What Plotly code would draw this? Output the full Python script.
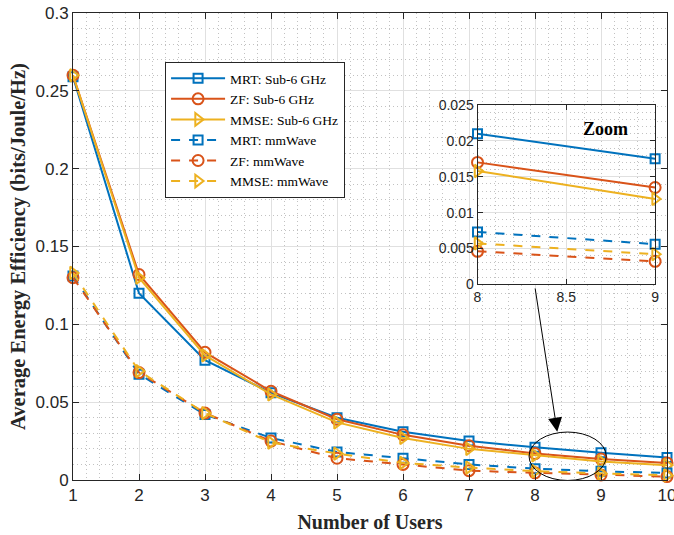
import plotly.graph_objects as go

users = [1, 2, 3, 4, 5, 6, 7, 8, 9, 10]
mrt_sub6 = [0.259, 0.120, 0.077, 0.056, 0.040, 0.031, 0.025, 0.0210, 0.0175, 0.0145]
zf_sub6 = [0.260, 0.132, 0.082, 0.057, 0.039, 0.029, 0.022, 0.0170, 0.0135, 0.0110]
mmse_sub6 = [0.260, 0.130, 0.080, 0.055, 0.037, 0.027, 0.020, 0.0158, 0.0119, 0.0095]
mrt_mm = [0.131, 0.068, 0.042, 0.027, 0.018, 0.014, 0.010, 0.0073, 0.0056, 0.0045]
zf_mm = [0.130, 0.069, 0.043, 0.025, 0.014, 0.010, 0.006, 0.0046, 0.0032, 0.0022]
mmse_mm = [0.133, 0.070, 0.043, 0.024, 0.017, 0.011, 0.008, 0.0057, 0.0042, 0.0030]

series_names = ["MRT: Sub-6 GHz", "ZF: Sub-6 GHz", "MMSE: Sub-6 GHz",
                "MRT: mmWave", "ZF: mmWave", "MMSE: mmWave"]

y_ticks = [0, 0.05, 0.1, 0.15, 0.2, 0.25, 0.3]
y_ticktext = ["0", "0.05", "0.1", "0.15", "0.2", "0.25", "0.3"]
inset_x_ticks = [8, 8.5, 9]
inset_y_ticks = [0, 0.005, 0.01, 0.015, 0.02, 0.025]
inset_y_ticktext = ["0", "0.005", "0.01", "0.015", "0.02", "0.025"]

BLUE, RED, YEL = "#0072BD", "#D95319", "#EDB120"
styles = [
    (BLUE, "square-open", "solid", 9),
    (RED, "circle-open", "solid", 11),
    (YEL, "triangle-right-open", "solid", 11),
    (BLUE, "square-open", "dash", 9),
    (RED, "circle-open", "dash", 11),
    (YEL, "triangle-right-open", "dash", 11),
]
data = [mrt_sub6, zf_sub6, mmse_sub6, mrt_mm, zf_mm, mmse_mm]

fig = go.Figure()
for name, ys, (c, sym, dash, ms) in zip(series_names, data, styles):
    fig.add_trace(go.Scatter(
        x=users, y=ys, name=name, mode="lines+markers",
        line=dict(color=c, width=2, dash=dash),
        marker=dict(symbol=sym, size=ms, color=c, line=dict(width=2, color=c)),
        cliponaxis=False, xaxis="x", yaxis="y"))
# inset traces (zoomed region users 8-9)
for name, ys, (c, sym, dash, ms) in zip(series_names, data, styles):
    fig.add_trace(go.Scatter(
        x=users[7:9], y=ys[7:9], name=name, mode="lines+markers", showlegend=False,
        line=dict(color=c, width=2, dash=dash),
        marker=dict(symbol=sym, size=ms, color=c, line=dict(width=2, color=c)),
        cliponaxis=False, xaxis="x2", yaxis="y2"))

AX = "#262626"
GRID = "#e0e0e0"
MINOR = "#c2c2c2"
MDASH = "1px,3px"
tickfont = dict(family="Liberation Sans, Arial", size=17, color=AX)
insetfont = dict(family="Liberation Sans, Arial", size=14, color=AX)

fig.update_layout(
    width=674, height=535,
    margin=dict(l=73, r=7, t=13, b=55),
    paper_bgcolor="white", plot_bgcolor="white",
    xaxis=dict(domain=[0, 1], range=[1, 10], tickmode="array", tickvals=users,
               automargin=False, ticklabeloverflow="allow",
               ticks="inside", ticklen=6, tickcolor=AX, showline=True, linecolor=AX,
               linewidth=1, mirror="ticks", showgrid=True, gridcolor=GRID, gridwidth=1,
               zeroline=False, tickfont=tickfont,
               minor=dict(dtick=0.2, tick0=1, showgrid=True, gridcolor=MINOR,
                          griddash=MDASH, gridwidth=1),
               title=dict(text="<b>Number of Users</b>", standoff=10,
                          font=dict(family="Liberation Serif, Times New Roman", size=20, color=AX))),
    yaxis=dict(domain=[0, 1], range=[0, 0.3], tickmode="array", tickvals=y_ticks,
               ticktext=y_ticktext, automargin=False, ticklabeloverflow="allow",
               ticks="inside", ticklen=6, tickcolor=AX, showline=True, linecolor=AX,
               linewidth=1, mirror="ticks", showgrid=True, gridcolor=GRID, gridwidth=1,
               zeroline=False, tickfont=tickfont,
               minor=dict(dtick=0.01, tick0=0, showgrid=True, gridcolor=MINOR,
                          griddash=MDASH, gridwidth=1),
               title=dict(text="<b>Average Energy Efficiency (bits/Joule/Hz)</b>", standoff=4,
                          font=dict(family="Liberation Serif, Times New Roman", size=20.5, color=AX))),
    xaxis2=dict(domain=[0.681, 0.980], anchor="y2", range=[8, 9], tickmode="array",
                tickvals=inset_x_ticks, ticktext=["8", "8.5", "9"], automargin=False,
                ticklabeloverflow="allow",
                ticks="inside", ticklen=5, tickcolor=AX, showline=True, linecolor=AX,
                linewidth=1, mirror="ticks", showgrid=True, gridcolor=GRID,
                zeroline=False, tickfont=insetfont,
                minor=dict(dtick=0.1, tick0=8, showgrid=True, gridcolor=MINOR,
                           griddash=MDASH, gridwidth=1)),
    yaxis2=dict(domain=[0.419, 0.803], anchor="x2", range=[0, 0.025], tickmode="array",
                tickvals=inset_y_ticks, ticktext=inset_y_ticktext, automargin=False,
                ticklabeloverflow="allow",
                ticks="inside", ticklen=5, tickcolor=AX, showline=True, linecolor=AX,
                linewidth=1, mirror="ticks", showgrid=True, gridcolor=GRID,
                zeroline=False, tickfont=insetfont,
                minor=dict(dtick=0.001, tick0=0, showgrid=True, gridcolor=MINOR,
                           griddash=MDASH, gridwidth=1)),
    legend=dict(x=0.155, y=0.895, xanchor="left", yanchor="top",
                bgcolor="white", bordercolor=AX, borderwidth=1,
                font=dict(family="Liberation Serif, Times New Roman", size=13.5, color="black"),
                itemwidth=54, tracegroupgap=0),
    showlegend=True,
)

# ellipse highlighting the zoomed region
fig.add_shape(type="circle", xref="x", yref="y", x0=7.91, x1=9.08, y0=-0.0003, y1=0.0308,
              line=dict(color="black", width=1))
# arrow from inset to ellipse
fig.add_annotation(x=8.337, y=0.031, ax=7.999, ay=0.124, xref="x", yref="y",
                   axref="x", ayref="y", text="", showarrow=True, arrowhead=2,
                   arrowsize=2.8, arrowwidth=1, arrowcolor="black")
fig.add_annotation(x=8.72, y=0.0216, xref="x2", yref="y2", text="<b>Zoom</b>",
                   showarrow=False,
                   font=dict(family="Liberation Serif, Times New Roman", size=18, color="black"))

# remove the default 8px page margin so the figure fills the window exactly
fig.write_html("out.html", config={"displayModeBar": False},
               post_script="document.body.style.margin='0';document.body.style.overflow='hidden';")
